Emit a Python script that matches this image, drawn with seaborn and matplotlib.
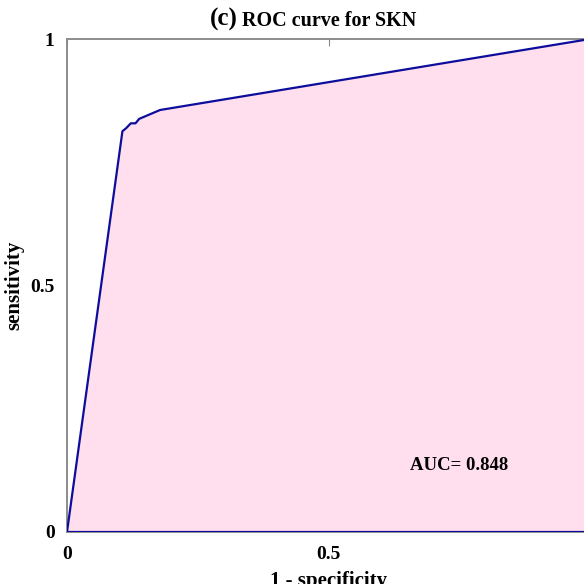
import numpy as np
import pandas as pd
import matplotlib
matplotlib.use("Agg")
import matplotlib.pyplot as plt
import seaborn as sns

# ROC points (false positive rate, true positive rate)
fpr = [0.0, 0.106, 0.113, 0.122, 0.131, 0.138, 0.178, 1.0]
tpr = [0.0, 0.813, 0.819, 0.829, 0.829, 0.838, 0.856, 1.0]
auc_value = 0.848
tick_values = [0, 0.5, 1]
tick_labels = ["0", "0.5", "1"]

sns.set_theme(style="white")
plt.rcParams["font.family"] = ["Liberation Serif", "DejaVu Serif"]
plt.rcParams["font.weight"] = "bold"
plt.rcParams["text.color"] = "black"
plt.rcParams["axes.labelcolor"] = "black"
plt.rcParams["xtick.labelcolor"] = "black"
plt.rcParams["ytick.labelcolor"] = "black"

df = pd.DataFrame({"fpr": fpr, "tpr": tpr})
# closed outline like MATLAB's fill(): curve, then down the right side and back along y=0
outline = pd.DataFrame({
    "fpr": fpr + [1.0, 0.0],
    "tpr": tpr + [0.0, 0.0],
})

fig = plt.figure(figsize=(5.84, 5.84), dpi=100)
ax = fig.add_axes([67 / 584, 52 / 584, 523 / 584, 493 / 584])

ax.fill_between(df["fpr"], df["tpr"], 0, color="#ffdfee", linewidth=0, zorder=1)
sns.lineplot(data=outline, x="fpr", y="tpr", sort=False, estimator=None,
             color="#0d0d9c", linewidth=1.6, ax=ax, zorder=3)

ax.set_xlim(0, 1)
ax.set_ylim(0, 1)
ax.set_xticks(tick_values)
ax.set_xticklabels(tick_labels)
ax.set_yticks(tick_values)
ax.set_yticklabels(tick_labels)
ax.tick_params(direction="in", length=5, width=0.8, color="#888888",
               labelsize=14, top=True, right=True)
ax.tick_params(axis="y", pad=9)
ax.tick_params(axis="x", pad=10)
for lbl in ax.get_xticklabels() + ax.get_yticklabels():
    lbl.set_fontweight("bold")
for side in ["left", "right", "top", "bottom"]:
    ax.spines[side].set_color("#8c8c8c")
    ax.spines[side].set_linewidth(1.4)

ax.set_xlabel("1 - specificity", fontsize=15, fontweight="bold", labelpad=6)
ax.set_ylabel("sensitivity", fontsize=15, fontweight="bold", labelpad=4)

ax.text(0.656, 0.125, f"AUC= {auc_value}", fontsize=13.5, fontweight="bold",
        ha="left", va="baseline", zorder=4)

# title with a larger panel letter
fig.text(238 / 584, 1 - 26 / 584, "(c)", fontsize=18, fontweight="bold",
         ha="right", va="baseline")
fig.text(242 / 584, 1 - 26 / 584, "ROC curve for SKN", fontsize=14.5,
         fontweight="bold", ha="left", va="baseline")

fig.savefig("out.png", dpi=100)
